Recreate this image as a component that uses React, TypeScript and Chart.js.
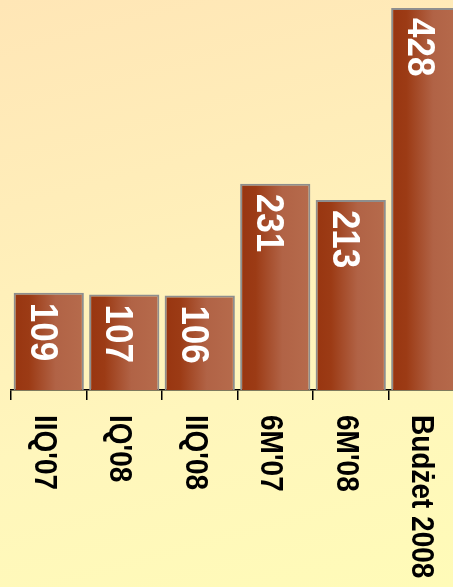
import React, { useEffect, useRef } from "react";
import { Chart, registerables } from "chart.js";

Chart.register(...registerables);

const categories = ["IIQ'07", "IQ'08", "IIQ'08", "6M'07", "6M'08", "Budżet 2008"];
const values = [109, 107, 106, 231, 213, 428];
const valueLabels = ["109", "107", "106", "231", "213", "428"];

const FONT = "'Liberation Sans', Arial, sans-serif";

const labelPlugin = {
  id: "rotatedLabels",
  afterDatasetsDraw(chart: any) {
    const ctx = chart.ctx;
    const meta = chart.getDatasetMeta(0);
    const xScale = chart.scales.x;
    ctx.save();
    meta.data.forEach((el: any, i: number) => {
      ctx.save();
      ctx.translate(el.x - 18, el.y + 10);
      ctx.rotate(Math.PI / 2);
      ctx.scale(1, 1.12);
      ctx.fillStyle = "#ffffff";
      ctx.font = `bold 35px ${FONT}`;
      ctx.textAlign = "left";
      ctx.textBaseline = "alphabetic";
      ctx.fillText(valueLabels[i], 0, 0);
      ctx.restore();
      const cx = xScale.getPixelForValue(i);
      ctx.save();
      ctx.translate(cx - 14, chart.chartArea.bottom + 25);
      ctx.rotate(Math.PI / 2);
      ctx.scale(1, 1.13);
      ctx.fillStyle = "#000000";
      ctx.font = `bold 28px ${FONT}`;
      ctx.textAlign = "left";
      ctx.textBaseline = "alphabetic";
      ctx.fillText(categories[i], 0, 0);
      ctx.restore();
    });
    ctx.restore();
  },
};

export default function App() {
  const ref = useRef<HTMLCanvasElement | null>(null);

  useEffect(() => {
    if (!ref.current) return;
    const barPct = 0.93;
    const chart = new Chart(ref.current, {
      type: "bar",
      data: {
        labels: categories,
        datasets: [
          {
            data: values,
            backgroundColor: (c: any) => {
              const ch = c.chart;
              const xs = ch.scales && ch.scales.x;
              if (!xs || c.dataIndex === undefined) return "#A84E2C";
              const center = xs.getPixelForValue(c.dataIndex);
              const w = (xs.width / categories.length) * barPct;
              if (!Number.isFinite(center) || !Number.isFinite(w) || w <= 0) return "#A84E2C";
              const g = ch.ctx.createLinearGradient(center - w / 2, 0, center + w / 2, 0);
              g.addColorStop(0, "#983510");
              g.addColorStop(0.22, "#9C3B15");
              g.addColorStop(0.6, "#B16346");
              g.addColorStop(1, "#B66B4C");
              return g;
            },
            borderColor: "#8E8E8E",
            borderWidth: { top: 2, left: 2, right: 2, bottom: 0 },
            borderSkipped: "bottom",
            barPercentage: barPct,
            categoryPercentage: 1,
          },
        ],
      },
      options: {
        responsive: false,
        animation: false,
        devicePixelRatio: 1,
        layout: { padding: { left: 11, right: 6, top: 0, bottom: 0 } },
        plugins: {
          legend: { display: false },
          tooltip: { enabled: false },
          title: { display: false },
        },
        scales: {
          x: {
            offset: true,
            grid: {
              display: true,
              drawOnChartArea: false,
              drawTicks: true,
              tickLength: 10,
              color: "#000000",
              lineWidth: 1.5,
              offset: true,
            },
            border: { display: true, color: "#000000", width: 1.5 },
            ticks: { display: false },
            afterFit: (scale: any) => {
              scale.height = 197;
            },
          },
          y: {
            display: false,
            min: 0,
            max: 437,
          },
        },
      },
      plugins: [labelPlugin],
    });
    return () => chart.destroy();
  }, []);

  return (
    <div
      style={{
        position: "fixed",
        left: 0,
        top: 0,
        width: 453,
        height: 587,
        overflow: "hidden",
        background:
          "linear-gradient(165deg, #FFE6B6 0%, #FFEDB9 30%, #FFF6BC 65%, #FFFBB8 100%)",
      }}
    >
      <canvas
        ref={ref}
        width={470}
        height={587}
        style={{ position: "absolute", left: 0, top: 0, width: 470, height: 587 }}
      />
    </div>
  );
}
